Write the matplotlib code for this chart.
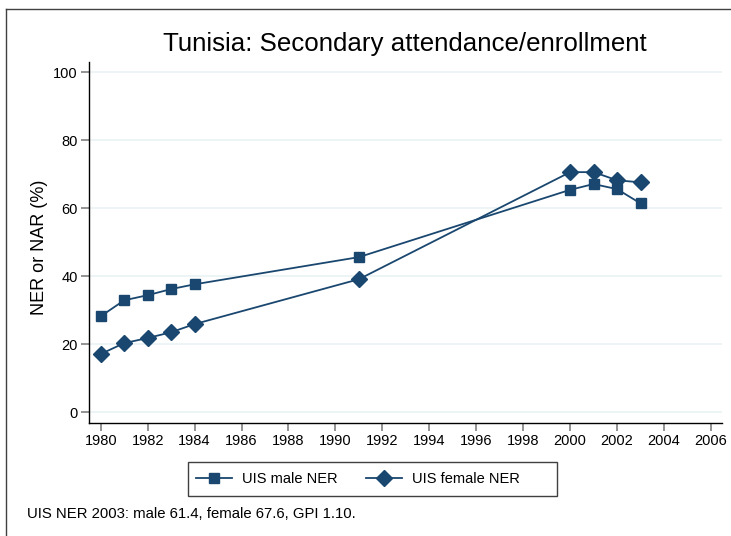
import matplotlib
matplotlib.use("Agg")
import matplotlib.pyplot as plt
from matplotlib.lines import Line2D
from matplotlib.patches import Rectangle

plt.rcParams['font.family'] = ['Liberation Sans', 'DejaVu Sans']

years_male = [1980, 1981, 1982, 1983, 1984, 1991, 2000, 2001, 2002, 2003]
male_ner = [28.2, 32.9, 34.4, 36.2, 37.6, 45.6, 65.4, 67.1, 65.6, 61.4]
years_female = [1980, 1981, 1982, 1983, 1984, 1991, 2000, 2001, 2002, 2003]
female_ner = [17.1, 20.3, 21.8, 23.5, 25.9, 39.1, 70.6, 70.6, 68.2, 67.6]
xticks = list(range(1980, 2007, 2))
yticks = [0, 20, 40, 60, 80, 100]
title = "Tunisia: Secondary attendance/enrollment"
ylabel = "NER or NAR (%)"
labels = ["UIS male NER", "UIS female NER"]
note = "UIS NER 2003: male 61.4, female 67.6, GPI 1.10."

W, H = 731, 536
fig = plt.figure(figsize=(W / 100, H / 100), dpi=100)
col = '#1a476f'


def fx(px):
    return px / W


def fy(py):
    return 1 - py / H


ax_l, ax_r, ax_t, ax_b = 89, 722, 62, 423
ax = fig.add_axes([fx(ax_l), fy(ax_b), (ax_r - ax_l) / W, (ax_b - ax_t) / H])
ax.set_xlim(1979.5, 2006.47)
ax.set_ylim(-3.2, 103.0)

for v in yticks:
    ax.axhline(v, color='#eaf2f3', lw=1.2, zorder=0)

ax.plot(years_male, male_ner, color=col, lw=1.3, marker='s', ms=6.5, mfc=col, mec=col, zorder=3)
ax.plot(years_female, female_ner, color=col, lw=1.3, marker='D', ms=8, mfc=col, mec=col, zorder=3)

for s in ['top', 'right']:
    ax.spines[s].set_visible(False)
for s in ['left', 'bottom']:
    ax.spines[s].set_color('black')
    ax.spines[s].set_linewidth(1.0)

ax.set_xticks(xticks)
ax.set_yticks(yticks)
ax.tick_params(axis='both', colors='#808080', labelcolor='black', length=6, width=1.2, labelsize=10.5)
ax.tick_params(axis='x', pad=2)
ax.tick_params(axis='y', pad=2)

fig.text(fx(405), fy(44), title, ha='center', va='center', fontsize=18.6)
fig.text(fx(39), fy(247), ylabel, ha='center', va='center', rotation=90, fontsize=13)

handles = [Line2D([], [], color=col, lw=1.3, marker='s', ms=6.5, mfc=col, mec=col),
           Line2D([], [], color=col, lw=1.3, marker='D', ms=8, mfc=col, mec=col)]
fs = 10.5
em = fs * 100 / 72
leg = fig.legend(handles, labels, loc='center left', bbox_to_anchor=(fx(196), fy(479)),
                 ncol=2, frameon=False, fontsize=fs, handlelength=36 / em,
                 columnspacing=28 / em, borderpad=0, borderaxespad=0, handletextpad=10 / em)
fig.add_artist(Rectangle((fx(188), fy(496)), (557 - 188) / W, (496 - 462) / H,
                         transform=fig.transFigure, fill=False, edgecolor='#404040', lw=1.0))

fig.text(fx(27), fy(513.5), note, ha='left', va='center', fontsize=10.7)

# outer frame: only the top and left edges fall inside the image
fig.add_artist(Line2D([fx(6), 1.2], [fy(9), fy(9)], color='#404040', lw=1.0,
                      transform=fig.transFigure))
fig.add_artist(Line2D([fx(6), fx(6)], [fy(9), -0.2], color='#404040', lw=1.0,
                      transform=fig.transFigure))
# keep the right edge of the image clear
fig.add_artist(Rectangle((fx(727), -0.1), 0.2, fy(11) + 0.1, transform=fig.transFigure,
                         facecolor='white', edgecolor='none', zorder=10))

fig.savefig('out.png', dpi=100)
